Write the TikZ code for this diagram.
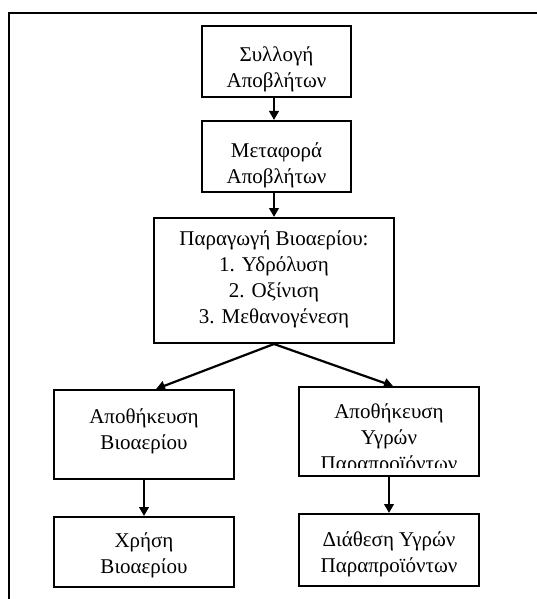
\documentclass[tikz,border=0pt]{standalone}
\usepackage{fontspec}
\setmainfont{Liberation Serif}
\usetikzlibrary{arrows.meta}
\tikzset{
  box/.style={draw, line width=2pt, rectangle, inner sep=0pt},
  txt/.style={align=center, anchor=north, inner sep=0pt, font=\fontsize{21}{26}\selectfont},
  conn/.style={line width=2.2pt, -{Triangle[length=9pt,width=9.5pt]}},
}
\newcommand{\fl}{\rule{0pt}{19pt}}
\begin{document}
\begin{tikzpicture}[x=1pt,y=1pt]
\useasboundingbox (0,0) rectangle (537,-599);
% outer frame (cropped)
\draw[line width=2.6pt] (9,-599) -- (9,-13) -- (537,-13);
% boxes
\node[box, minimum width=149pt, minimum height=71pt] (b1) at (276.5,-61.5) {};
\node[box, minimum width=149pt, minimum height=71pt] (b2) at (276.5,-156.5) {};
\node[box, minimum width=240pt, minimum height=125pt] (b3) at (274,-280.5) {};
\node[box, minimum width=180pt, minimum height=89pt] (b4) at (144,-434.5) {};
\node[box, minimum width=180pt, minimum height=89pt] (b5) at (389,-431.5) {};
\node[box, minimum width=180pt, minimum height=70pt] (b6) at (144,-552) {};
\node[box, minimum width=180pt, minimum height=72pt] (b7) at (389,-550) {};
% texts
\node[txt] (t1) at (276.5,-42) {\fl Συλλογή\\Αποβλήτων};
\node[txt] (t2) at (276.5,-138) {\fl Μεταφορά\\Αποβλήτων};
\node[txt] (t3) at (274,-226) {\fl Παραγωγή Βιοαερίου:\\1. Υδρόλυση\\2. Οξίνιση\\3. Μεθανογένεση};
\node[txt] (t4) at (144,-404) {\fl Αποθήκευση\\Βιοαερίου};
\begin{scope}
\clip (298,-386) rectangle (480,-467);
\node[txt] (t5) at (389,-399) {\fl Αποθήκευση\\Υγρών\\Παραπροϊόντων};
\end{scope}
\node[txt] (t6) at (144,-528) {\fl Χρήση\\Βιοαερίου};
\node[txt] (t7) at (389,-527) {\fl Διάθεση Υγρών\\Παραπροϊόντων};
% connectors
\draw[conn] (b1.south -| b3.north) -- (b2.north -| b3.north);
\draw[conn] (b2.south -| b3.north) -- (b3.north);
\draw[conn] (b3.south) -- ([xshift=12pt]b4.north);
\draw[conn] (b3.south) -- ([xshift=4pt]b5.north);
\draw[conn] (b4.south) -- (b6.north);
\draw[conn] (b5.south) -- (b7.north);
\end{tikzpicture}
\end{document}
